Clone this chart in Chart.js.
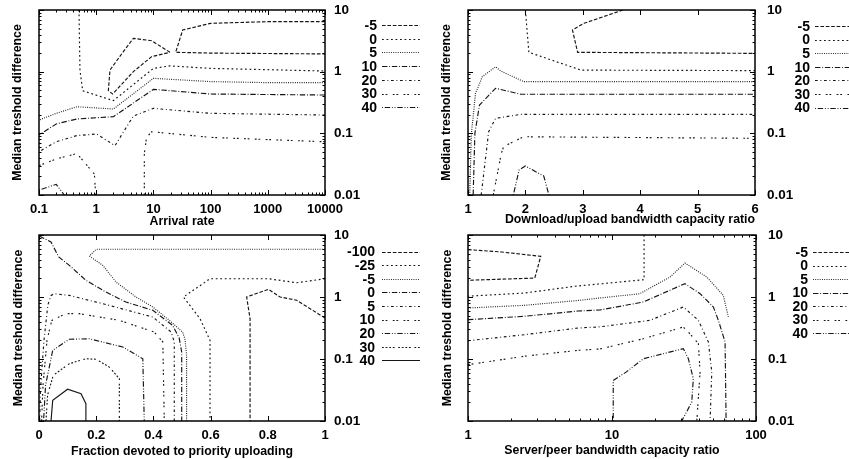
<!DOCTYPE html>
<html><head><meta charset="utf-8">
<script src="https://cdn.jsdelivr.net/npm/chart.js@4/dist/chart.umd.min.js"></script>
<style>
html,body{margin:0;padding:0;background:#fff;}
#wrap{position:relative;width:849px;height:459px;overflow:hidden;background:#fff;}
.p{position:absolute;}
</style></head><body>
<div id="wrap">
<div class="p" style="left:0;top:0;width:425px;height:230px"><canvas id="c1"></canvas></div>
<div class="p" style="left:425px;top:0;width:424px;height:230px"><canvas id="c2"></canvas></div>
<div class="p" style="left:0;top:220px;width:425px;height:239px"><canvas id="c3"></canvas></div>
<div class="p" style="left:425px;top:220px;width:424px;height:239px"><canvas id="c4"></canvas></div>
</div>
<script>
// ---------- tick values / labels ----------
const yTicks = [0.01, 0.1, 1, 10];
const yTickLabels = ['0.01', '0.1', '1', '10'];
const yTitle = 'Median treshold difference';

const arrivalTicks = [0.1, 1, 10, 100, 1000, 10000];
const arrivalTickLabels = ['0.1', '1', '10', '100', '1000', '10000'];
const ratioTicks = [1, 2, 3, 4, 5, 6];
const ratioTickLabels = ['1', '2', '3', '4', '5', '6'];
const fractionTicks = [0, 0.2, 0.4, 0.6, 0.8, 1];
const fractionTickLabels = ['0', '0.2', '0.4', '0.6', '0.8', '1'];
const serverTicks = [1, 10, 100];
const serverTickLabels = ['1', '10', '100'];

const levels7 = ['-5', '0', '5', '10', '20', '30', '40'];
const levels9 = ['-100', '-25', '-5', '0', '5', '10', '20', '30', '40'];

// ---------- contour lines (x, y) ; null = break ----------
// Panel 1: Arrival rate
const ar_m5 = [[10000,6.47],[1000,6.47],[100,6.08],[32.5,4.74],[24.5,2.06],[100,2.0],[1000,1.97],[10000,1.94], null,
  [19.5,2.06],[9.3,3.18],[4.46,3.47],[2.98,2.11],[1.74,1.06],[1.63,0.49],[1.94,0.434],[4.46,1.0],[9.3,1.75],[19.5,2.06]];
const ar_0 = [[0.5,10],[0.52,1.06],[0.58,0.49],[2.0,0.339],[10,1.13],[19.5,1.24],[100,1.13],[10000,1.025]];
const ar_5 = [[10000,0.664],[1000,0.664],[100,0.69],[10,0.78],[2.0,0.248],[0.46,0.27],[0.2,0.211],[0.1,0.164]];
const ar_10 = [[10000,0.418],[100,0.434],[10,0.517],[2.0,0.186],[0.46,0.171],[0.2,0.142],[0.1,0.094]];
const ar_20 = [[10000,0.198],[100,0.211],[10,0.254],[4.46,0.191],[2.13,0.063],[1.02,0.0975],[0.46,0.092],[0.2,0.073],[0.1,0.0504]];
const ar_30 = [[10000,0.073],[100,0.086],[9.3,0.106],[7.6,0.086],[6.94,0.047],[6.94,0.01], null,
  [0.1,0.03],[0.2,0.0384],[0.46,0.047],[0.93,0.0219],[0.98,0.01]];
const ar_40 = [[0.1,0.012],[0.2,0.0149],[0.277,0.01]];

// Panel 2: Download/upload bandwidth capacity ratio
const dl_m5 = [[3.70,10],[3.02,6.08],[2.82,4.74],[2.91,2.06],[6,1.98]];
const dl_0 = [[2.0,10],[2.06,2.06],[2.97,1.06],[6,1.04]];
const dl_5 = [[1.03,0.01],[1.06,0.1],[1.13,0.445],[1.25,0.83],[1.48,1.2],[1.57,1.025],[1.97,0.69],[6,0.69]];
const dl_10 = [[1.09,0.01],[1.12,0.1],[1.2,0.288],[1.48,0.537],[1.92,0.43],[6,0.43]];
const dl_20 = [[1.23,0.01],[1.36,0.106],[1.48,0.175],[1.92,0.203],[6,0.203]];
const dl_30 = [[1.44,0.01],[1.58,0.047],[1.62,0.061],[1.97,0.088],[6,0.083]];
const dl_40 = [[1.79,0.01],[1.89,0.0254],[2.0,0.0295],[2.32,0.0203],[2.41,0.01]];

// Panel 3: Fraction devoted to priority uploading
const fr_m100 = [[1,0.458],[0.901,0.885],[0.843,1.0],[0.802,1.33],[0.726,1.0],[0.738,0.447],[0.738,0.01]];
const fr_m25 = [[1,1.97],[0.901,1.70],[0.802,1.97],[0.598,1.97],[0.505,1.0],[0.563,0.447],[0.598,0.2],[0.598,0.01]];
const fr_m5 = [[1,5.88],[0.2,5.88],[0.176,4.58],[0.223,3.24],[0.269,1.75],[0.339,1.0],[0.398,0.69],[0.456,0.42],[0.502,0.272],[0.51,0.212],[0.516,0.115],[0.516,0.01]];
const fr_0 = [[0.001,9.64],[0.042,7.71],[0.069,4.42],[0.106,3.24],[0.164,1.86],[0.234,1.2],[0.304,0.83],[0.398,0.61],[0.467,0.35],[0.49,0.218],[0.499,0.13],[0.499,0.01]];
const fr_5 = [[0.0024,0.01],[0.005,0.0316],[0.0175,0.203],[0.031,0.743],[0.042,1.06],[0.0535,1.13],[0.106,1.06],[0.223,0.78],[0.398,0.475],[0.462,0.272],[0.473,0.188],[0.473,0.01]];
const fr_10 = [[0.009,0.01],[0.014,0.038],[0.028,0.203],[0.045,0.42],[0.094,0.538],[0.141,0.538],[0.281,0.42],[0.403,0.272],[0.433,0.188],[0.438,0.01]];
const fr_20 = [[0.016,0.01],[0.023,0.038],[0.048,0.138],[0.106,0.208],[0.176,0.212],[0.293,0.156],[0.363,0.101],[0.368,0.01]];
const fr_30 = [[0.0245,0.01],[0.03,0.0263],[0.05,0.0546],[0.106,0.084],[0.164,0.101],[0.2,0.099],[0.246,0.074],[0.281,0.048],[0.281,0.01]];
const fr_40 = [[0.042,0.01],[0.048,0.0216],[0.1,0.0325],[0.147,0.0275],[0.164,0.019],[0.164,0.01]];

// Panel 4: Server/peer bandwidth capacity ratio
const sp_m5 = [[1,5.8],[1.71,5.32],[3.2,4.53],[2.91,2.02],[1,1.86]];
const sp_0 = [[16.7,10],[16.7,1.9],[5.52,1.49],[2.48,1.16],[1,1.03]];
const sp_5 = [[1,0.665],[2.48,0.734],[5.82,0.88],[8.24,0.964],[15.6,1.13],[25.3,2.1],[32.1,3.53],[45.5,2.1],[59.3,1.06],[64.3,0.475]];
const sp_10 = [[1,0.431],[2.48,0.489],[5.82,0.594],[8.24,0.617],[16.5,0.83],[32.1,1.64],[40.9,1.13],[50.6,0.69],[54.8,0.42],[61,0.188],[62,0.01]];
const sp_20 = [[1,0.197],[2.48,0.247],[5.82,0.316],[8.24,0.33],[18.3,0.42],[31.3,0.69],[39.8,0.42],[46.7,0.188],[49.3,0.062],[48,0.01]];
const sp_30 = [[1,0.081],[2.48,0.111],[5.82,0.138],[8.24,0.145],[16.5,0.212],[31.3,0.328],[33.9,0.272],[39.8,0.177],[40.9,0.062],[38.8,0.01]];
const sp_40 = [[10.2,0.01],[10.2,0.045],[12.6,0.062],[16.5,0.101],[31.3,0.147],[33.9,0.101],[36.7,0.048],[35.8,0.0202],[30.5,0.01]];

// ---------- styling ----------
const DU = 0.9; // dash unit
const LT = [[], [4,2], [2,3], [1,1.5], [6,2,1,2], [3,3,1,3], [2,2,2,6], [1,2,6,2,1,2], [2,2,2,2,2,2,2,4]]
  .map(a => a.map(v => v * DU));
const LINE_COLOR = '#151515';
const LINE_WIDTH = 1.15;
const FONT = '"Liberation Sans", Arial, Helvetica, sans-serif';

Chart.defaults.font.family = FONT;
Chart.defaults.font.weight = 'bold';
Chart.defaults.color = '#000';

function pts(arr) { return arr.map(p => p ? {x: p[0], y: p[1]} : {x: null, y: null}); }
function logMinors(lo, hi) {
  const out = [];
  for (let d = lo; d < hi; d *= 10) for (let k = 2; k <= 9; k++) out.push(+(d * k).toPrecision(3));
  return out;
}
const yMinor = logMinors(0.01, 10);

const gpFrame = {
  id: 'gpFrame',
  afterDatasetsDraw(chart, args, o) {
    const {ctx, chartArea: a, scales} = chart;
    const xs = scales.x, ys = scales.y;
    ctx.save();
    ctx.strokeStyle = '#000';
    ctx.lineWidth = 1;
    ctx.setLineDash([]);
    ctx.beginPath();
    const xt = (v, len) => { const p = Math.round(xs.getPixelForValue(v)) + 0.5;
      ctx.moveTo(p, a.bottom); ctx.lineTo(p, a.bottom - len); ctx.moveTo(p, a.top); ctx.lineTo(p, a.top + len); };
    const yt = (v, len) => { const p = Math.round(ys.getPixelForValue(v)) + 0.5;
      ctx.moveTo(a.left, p); ctx.lineTo(a.left + len, p); ctx.moveTo(a.right, p); ctx.lineTo(a.right - len, p); };
    o.xMajor.forEach(v => xt(v, 5));
    (o.xMinor || []).forEach(v => xt(v, 2.5));
    yTicks.forEach(v => yt(v, 5));
    yMinor.forEach(v => yt(v, 2.5));
    ctx.stroke();
    ctx.lineWidth = 1.5;
    ctx.strokeRect(a.left, a.top, a.right - a.left, a.bottom - a.top);
    ctx.restore();
  }
};

const gpLegend = {
  id: 'gpLegend',
  afterDraw(chart, args, o) {
    const ctx = chart.ctx;
    ctx.save();
    ctx.font = 'bold 14px ' + FONT;
    ctx.textAlign = 'right';
    ctx.textBaseline = 'middle';
    chart.data.datasets.forEach((ds, i) => {
      const y = o.top + i * o.step;
      ctx.fillStyle = '#000';
      ctx.fillText(ds.label, o.textRight, y + 1);
      ctx.beginPath();
      ctx.setLineDash(ds.borderDash || []);
      ctx.strokeStyle = ds.borderColor;
      ctx.lineWidth = ds.borderWidth;
      ctx.moveTo(o.x1, Math.round(y) + 0.5);
      ctx.lineTo(o.x2, Math.round(y) + 0.5);
      ctx.stroke();
    });
    ctx.restore();
  }
};

function zeroPad(s) { s.paddingLeft = 0; s.paddingRight = 0; s.paddingTop = 0; s.paddingBottom = 0; }

function makePanel(p) {
  const datasets = p.series.map((arr, i) => ({
    label: p.levels[i],
    data: pts(arr),
    showLine: true,
    spanGaps: false,
    borderColor: LINE_COLOR,
    borderWidth: LINE_WIDTH,
    borderDash: p.dashes[i],
    pointRadius: 0,
    pointHoverRadius: 0,
    fill: false,
    tension: 0
  }));
  const a = p.area;
  return new Chart(document.getElementById(p.id), {
    type: 'scatter',
    data: {datasets},
    plugins: [gpFrame, gpLegend],
    options: {
      responsive: true,
      maintainAspectRatio: false,
      animation: false,
      events: [],
      layout: {padding: {top: a.top, left: 0, right: 0, bottom: 0}},
      plugins: {
        legend: {display: false},
        tooltip: {enabled: false},
        gpFrame: {xMajor: p.xTicks, xMinor: p.xMinor},
        gpLegend: p.legend
      },
      scales: {
        x: {
          type: p.xType, position: 'bottom', min: p.xMin, max: p.xMax,
          grid: {display: false, drawTicks: false}, border: {display: false},
          afterBuildTicks: s => { s.ticks = p.xTicks.map(v => ({value: v})); },
          ticks: {autoSkip: false, maxRotation: 0, minRotation: 0, padding: 7, color: '#000',
                  font: {size: 13, weight: 'bold'}, callback: (v, i) => p.xTickLabels[i]},
          title: {display: true, text: p.xTitle, color: '#000', align: p.xTitleAlign || 'center',
                  font: {size: 12.3, weight: 'bold'}, padding: {top: 0, bottom: p.xTitlePad}},
          afterFit: s => { s.height = p.H - a.bottom; zeroPad(s); }
        },
        y: {
          type: 'logarithmic', position: 'right', min: 0.01, max: 10,
          grid: {display: false, drawTicks: false}, border: {display: false},
          afterBuildTicks: s => { s.ticks = yTicks.map(v => ({value: v})); },
          ticks: {autoSkip: false, padding: p.yLabelPad, color: '#000',
                  font: {size: 13.5, weight: 'bold'}, callback: (v, i) => yTickLabels[i]},
          afterFit: s => { s.width = p.W - a.right; zeroPad(s); }
        },
        yL: {
          type: 'logarithmic', position: 'left', min: 0.01, max: 10,
          grid: {display: false, drawTicks: false}, border: {display: false},
          ticks: {display: false},
          title: {display: true, text: yTitle, color: '#000',
                  font: {size: 12.3, weight: 'bold'}, padding: {top: p.yTitlePad, bottom: 0}},
          afterFit: s => { s.width = a.left; zeroPad(s); }
        }
      }
    }
  });
}

const dash7 = [LT[1], LT[2], LT[3], LT[4], LT[5], LT[6], LT[7]];
const dash9 = [LT[1], LT[2], LT[3], LT[4], LT[5], LT[6], LT[7], LT[8], LT[0]];

makePanel({
  id: 'c1', W: 425, H: 230, area: {left: 39, right: 325, top: 10, bottom: 195},
  xType: 'logarithmic', xMin: 0.1, xMax: 10000,
  xTicks: arrivalTicks, xTickLabels: arrivalTickLabels, xMinor: logMinors(0.1, 10000),
  xTitle: 'Arrival rate', xTitlePad: 1, yTitlePad: 10, yLabelPad: 9,
  levels: levels7, dashes: dash7,
  series: [ar_m5, ar_0, ar_5, ar_10, ar_20, ar_30, ar_40],
  legend: {textRight: 377, x1: 382, x2: 420, top: 25, step: 13.7}
});
makePanel({
  id: 'c2', W: 424, H: 230, area: {left: 43, right: 330, top: 10, bottom: 195},
  xType: 'linear', xMin: 1, xMax: 6,
  xTicks: ratioTicks, xTickLabels: ratioTickLabels, xMinor: [],
  xTitle: 'Download/upload bandwidth capacity ratio', xTitleAlign: 'end', xTitlePad: 3, yTitlePad: 14, yLabelPad: 12,
  levels: levels7, dashes: dash7,
  series: [dl_m5, dl_0, dl_5, dl_10, dl_20, dl_30, dl_40],
  legend: {textRight: 385, x1: 390, x2: 424, top: 26, step: 13.6}
});
makePanel({
  id: 'c3', W: 425, H: 239, area: {left: 39, right: 325, top: 15, bottom: 201},
  xType: 'linear', xMin: 0, xMax: 1,
  xTicks: fractionTicks, xTickLabels: fractionTickLabels, xMinor: [],
  xTitle: 'Fraction devoted to priority uploading', xTitlePad: 0, yTitlePad: 11, yLabelPad: 9,
  levels: levels9, dashes: dash9,
  series: [fr_m100, fr_m25, fr_m5, fr_0, fr_5, fr_10, fr_20, fr_30, fr_40],
  legend: {textRight: 375, x1: 382, x2: 420, top: 31.5, step: 13.6}
});
makePanel({
  id: 'c4', W: 424, H: 239, area: {left: 43, right: 331, top: 15, bottom: 201},
  xType: 'logarithmic', xMin: 1, xMax: 100,
  xTicks: serverTicks, xTickLabels: serverTickLabels, xMinor: logMinors(1, 100),
  xTitle: 'Server/peer bandwidth capacity ratio', xTitlePad: 1, yTitlePad: 15, yLabelPad: 12,
  levels: levels7, dashes: dash7,
  series: [sp_m5, sp_0, sp_5, sp_10, sp_20, sp_30, sp_40],
  legend: {textRight: 383, x1: 388, x2: 424, top: 32, step: 13.5}
});
</script>
</body></html>
